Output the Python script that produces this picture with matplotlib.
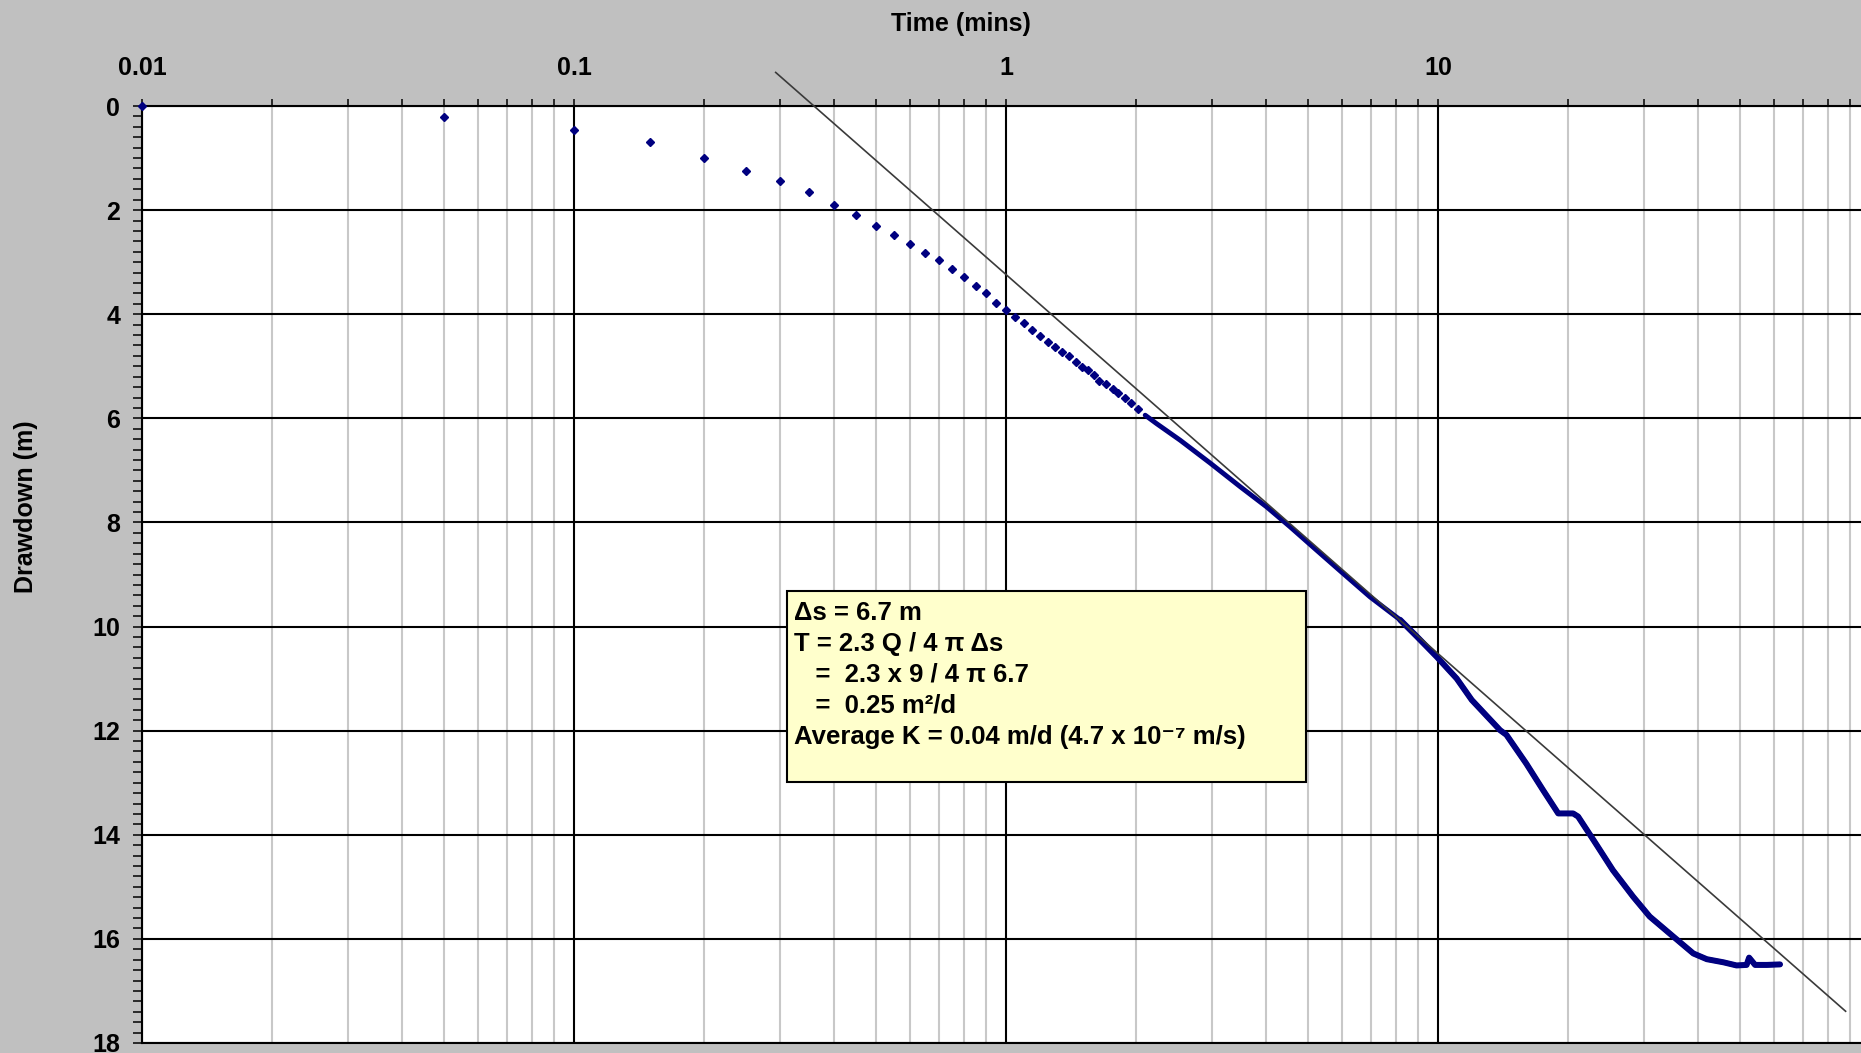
import matplotlib
matplotlib.use('Agg')
import matplotlib.pyplot as plt
from matplotlib.ticker import LogLocator, MultipleLocator, FixedLocator, NullFormatter, FixedFormatter
from matplotlib.patches import Rectangle

# ---------------- data ----------------
early_time = [0.01, 0.05, 0.10, 0.15, 0.20, 0.25, 0.30, 0.35, 0.40, 0.45, 0.50,
              0.55, 0.60, 0.65, 0.70, 0.75, 0.80, 0.85, 0.90, 0.95, 1.00, 1.05,
              1.10, 1.15, 1.20, 1.25, 1.30, 1.35, 1.40, 1.45, 1.50, 1.55, 1.60,
              1.642, 1.70, 1.765, 1.818, 1.883, 1.95, 2.02]
early_drawdown = [0.0, 0.21, 0.46, 0.70, 0.99, 1.24, 1.45, 1.66, 1.91, 2.09, 2.30,
                  2.47, 2.65, 2.82, 2.96, 3.14, 3.28, 3.46, 3.60, 3.78, 3.92, 4.06,
                  4.17, 4.30, 4.42, 4.53, 4.63, 4.73, 4.80, 4.91, 5.01, 5.08, 5.16,
                  5.28, 5.34, 5.44, 5.52, 5.61, 5.71, 5.83]

late_time = [2.10, 2.23, 2.53, 2.97, 3.48, 4.01, 4.54, 5.23, 6.03,
             6.96, 8.17, 8.93, 9.93, 11.05, 11.97, 13.92, 14.4, 16.0, 17.5, 18.98,
             20.55, 21.1, 22.9, 25.4, 28.3, 30.9, 35.1, 39.0, 41.9, 45.8, 49.1,
             51.8, 52.5, 54.2, 57.7, 61.9]
late_drawdown = [5.94, 6.10, 6.42, 6.86, 7.31, 7.70, 8.08, 8.53, 8.98,
                 9.43, 9.87, 10.19, 10.58, 11.00, 11.41, 11.99, 12.08, 12.63, 13.14, 13.59,
                 13.59, 13.65, 14.10, 14.68, 15.19, 15.57, 15.96, 16.28, 16.39, 16.45, 16.51,
                 16.50, 16.36, 16.50, 16.50, 16.49]

fit_time = [0.293, 87.8]
fit_drawdown = [-0.645, 17.39]

x_tick_values = [0.01, 0.1, 1, 10]
x_tick_labels = ['0.01', '0.1', '1', '10']
y_tick_values = [0, 2, 4, 6, 8, 10, 12, 14, 16, 18]

x_title = 'Time (mins)'
y_title = 'Drawdown (m)'
note_lines = ['\u0394s = 6.7 m',
              'T = 2.3 Q / 4 \u03c0 \u0394s',
              '   =  2.3 x 9 / 4 \u03c0 6.7',
              '   =  0.25 m\u00b2/d',
              'Average K = 0.04 m/d (4.7 x 10\u207b\u2077 m/s)']

# ---------------- figure ----------------
plt.rcParams['font.family'] = ['Liberation Sans', 'DejaVu Sans']
plt.rcParams['font.weight'] = 'bold'

W, H = 1861, 1053
fig = plt.figure(figsize=(W / 100, H / 100), dpi=100, facecolor='#c0c0c0')
ax = fig.add_axes([142 / W, 1 - 1043 / H, 1728 / W, 937 / H])
ax.set_facecolor('white')
ax.set_xscale('log')
ax.set_xlim(0.01, 100)
ax.set_ylim(18, 0)
ax.set_axisbelow(True)

ax.xaxis.set_major_locator(FixedLocator(x_tick_values))
ax.xaxis.set_major_formatter(FixedFormatter(x_tick_labels))
ax.xaxis.set_minor_locator(LogLocator(base=10, subs=[2, 3, 4, 5, 6, 7, 8, 9], numticks=20))
ax.xaxis.set_minor_formatter(NullFormatter())
ax.yaxis.set_major_locator(FixedLocator(y_tick_values))
ax.yaxis.set_minor_locator(MultipleLocator(0.2))

ax.xaxis.tick_top()
ax.tick_params(axis='x', which='both', direction='out', length=5, width=1.1,
               top=True, bottom=False, labeltop=True, labelbottom=False,
               pad=13.5, labelsize=18, colors='black')
ax.tick_params(axis='y', which='both', direction='out', length=6.3, width=1.1,
               pad=9.4, labelsize=18, colors='black')

ax.grid(which='minor', axis='x', color='#c8c8c8', lw=1.5)
ax.grid(which='major', axis='both', color='black', lw=1.5)

for sp in ax.spines.values():
    sp.set_color('black')
    sp.set_linewidth(1.5)

# data
navy = '#000080'
ax.plot(late_time, late_drawdown, color=navy, lw=3.5, solid_capstyle='round',
        solid_joinstyle='round', zorder=3)
idx = [i for i, t in enumerate(late_time) if t >= 8]
ax.plot([late_time[i] for i in idx], [late_drawdown[i] for i in idx], color=navy,
        lw=4.3, solid_capstyle='round', solid_joinstyle='round', zorder=3)
ax.plot(early_time, early_drawdown, ls='none', marker='D', ms=3.6, color=navy,
        mec=navy, zorder=4, clip_on=False)

# fitted straight line
ax.plot(fit_time, fit_drawdown, color='#3a3a3a', lw=1.2, zorder=5, clip_on=False)

# titles
fig.text(961 / W, 1 - 24 / H, x_title, ha='center', va='center', fontsize=18,
         fontweight='bold')
fig.text(26 / W, 1 - 507 / H, y_title, ha='center', va='center', fontsize=18,
         fontweight='bold', rotation=90)

# note box
fig.patches.append(Rectangle((787 / W, 1 - 782 / H), 519 / W, 191 / H,
                             transform=fig.transFigure, facecolor='#ffffcc',
                             edgecolor='black', lw=1.5, zorder=6))
for i, line in enumerate(note_lines):
    fig.text(794 / W, 1 - (612.5 + i * 31.1) / H, line, ha='left', va='center',
             fontsize=18.5, fontweight='bold', zorder=7)

fig.savefig('out.png', dpi=100, facecolor=fig.get_facecolor())
